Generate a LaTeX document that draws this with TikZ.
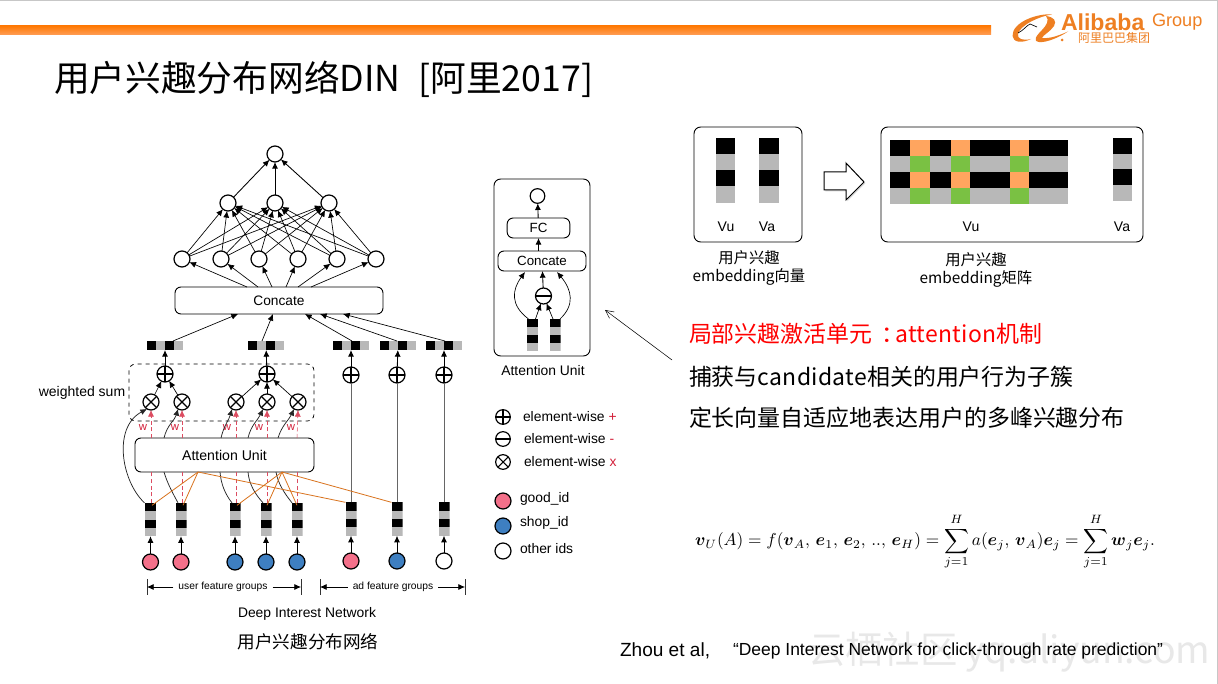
\documentclass[tikz,border=0pt]{standalone}
\usepackage[no-math]{fontspec}
\usepackage{amsmath}
\usepackage{graphicx}
\setmainfont{Liberation Sans}
\newfontfamily\cjk{Noto Sans CJK SC}
\newfontfamily\cjkwide[LetterSpace=1.5]{Noto Sans CJK SC}
\usetikzlibrary{arrows.meta,calc,shadows}
\definecolor{bartop}{HTML}{FF7A05}
\definecolor{barbot}{HTML}{FF9E58}
\definecolor{logoorange}{HTML}{EE7F22}
\definecolor{cellgray}{HTML}{B8B8B8}
\definecolor{cellorange}{HTML}{FFA55F}
\definecolor{cellgreen}{HTML}{7AC143}
\definecolor{pinkid}{HTML}{F4708A}
\definecolor{blueid}{HTML}{3E7FC1}
\definecolor{redw}{HTML}{D3203A}
\definecolor{wire}{HTML}{D9731E}
\tikzset{
  x=0.75pt,y=-0.75pt,
  arr/.style={-{Latex[length=5pt,width=4.5pt]},line width=0.65pt,black},
  thinarr/.style={-{Latex[length=5pt,width=4.5pt]},line width=0.5pt,black},
  redarr/.style={-{Latex[length=5pt,width=4.5pt]},line width=0.4pt,redw!80,densely dashed},
  reddash/.style={line width=0.4pt,redw!80,densely dashed},
  orangeline/.style={line width=0.6pt,wire},
  curvearr/.style={-{Latex[length=5pt,width=4.5pt]},line width=0.55pt,black!85},
  curveln/.style={line width=0.55pt,black!85},
  neuron/.style={circle,draw,line width=0.9pt,fill=white,inner sep=0,outer sep=0,minimum size=12pt},
  smallneuron/.style={neuron,minimum size=11pt},
  pinkn/.style={neuron,fill=pinkid},
  bluen/.style={neuron,fill=blueid},
  plusn/.style={neuron,path picture={
    \draw[line width=0.8pt] (path picture bounding box.north)--(path picture bounding box.south);
    \draw[line width=0.8pt] (path picture bounding box.west)--(path picture bounding box.east);}},
  minusn/.style={neuron,path picture={
    \draw[line width=0.8pt] (path picture bounding box.west)--(path picture bounding box.east);}},
  timesn/.style={neuron,path picture={
    \draw[line width=0.8pt] (path picture bounding box.north west)--(path picture bounding box.south east);
    \draw[line width=0.8pt] (path picture bounding box.north east)--(path picture bounding box.south west);}},
  vbar/.style={inner sep=0,outer sep=0,minimum width=8.25pt,minimum height=25pt,path picture={
    \fill[black] (path picture bounding box.north west) rectangle ($(path picture bounding box.north east)!.25!(path picture bounding box.south east)$);
    \fill[cellgray] ($(path picture bounding box.north west)!.25!(path picture bounding box.south west)$) rectangle ($(path picture bounding box.north east)!.5!(path picture bounding box.south east)$);
    \fill[black] ($(path picture bounding box.north west)!.5!(path picture bounding box.south west)$) rectangle ($(path picture bounding box.north east)!.75!(path picture bounding box.south east)$);
    \fill[cellgray] ($(path picture bounding box.north west)!.75!(path picture bounding box.south west)$) rectangle (path picture bounding box.south east);}},
  hbar/.style={inner sep=0,outer sep=0,minimum width=27pt,minimum height=6.75pt,path picture={
    \fill[black] (path picture bounding box.south west) rectangle ($(path picture bounding box.north west)!.25!(path picture bounding box.north east)$);
    \fill[cellgray] ($(path picture bounding box.south west)!.25!(path picture bounding box.south east)$) rectangle ($(path picture bounding box.north west)!.5!(path picture bounding box.north east)$);
    \fill[black] ($(path picture bounding box.south west)!.5!(path picture bounding box.south east)$) rectangle ($(path picture bounding box.north west)!.75!(path picture bounding box.north east)$);
    \fill[cellgray] ($(path picture bounding box.south west)!.75!(path picture bounding box.south east)$) rectangle (path picture bounding box.north east);}},
  roundbox/.style={draw,rounded corners=4.5pt,line width=0.7pt,inner sep=0,outer sep=0,fill=white},
  panel/.style={draw,rounded corners=5pt,line width=0.7pt,inner sep=0,outer sep=0},
  tick/.style={line width=0.6pt,black!80},
  txt/.style={inner sep=0,outer sep=0,text=black},
  f8/.style={txt,font=\fontsize{7.7}{9}\selectfont},
  f13/.style={txt,font=\fontsize{10.4}{12}\selectfont},
  fvu/.style={txt,font=\fontsize{10.5}{12}\selectfont},
  fcap/.style={txt,font=\cjk\fontsize{11.5}{14}\selectfont},
  fbody/.style={txt,anchor=west,font=\cjk\fontsize{17.2}{20}\selectfont},
}
\begin{document}
\begin{tikzpicture}
\useasboundingbox (0,0) rectangle (1218,684);
\fill[white] (0,0) rectangle (1218,684);
\draw[line width=0.8pt,black!22] (0,0.5)--(1218,0.5);
\draw[line width=0.8pt,black!22] (1217.5,0)--(1217.5,684);

% watermark
\node[txt,anchor=west,text=black!9,font=\cjk\fontsize{28}{30}\selectfont] (wm) at (808,652) {云栖社区\hspace{6pt}yq.aliyun.com};

% header bar
\shade[top color=bartop,bottom color=barbot] (0,26) rectangle (991,35);

% logo
\fill[logoorange] (1052,14.5) .. controls (1038,13) and (1012,22) .. (1012.5,36)
  .. controls (1013,42.5) and (1022,43.5) .. (1031,39)
  .. controls (1023,41) and (1017,39) .. (1018,34)
  .. controls (1020,25) and (1040,16) .. (1052,14.5) -- cycle;
\fill[logoorange] (1046,16) .. controls (1054,17) and (1057,21) .. (1054,26)
  .. controls (1050,32) and (1043,35) .. (1042,38)
  .. controls (1050,39) and (1060,35) .. (1068,31.5)
  .. controls (1060,37) and (1046,43) .. (1039,42)
  .. controls (1032,41) and (1037,35) .. (1042,30)
  .. controls (1046,26) and (1050,20) .. (1046,16) -- cycle;
\draw[line width=0.5pt,black] (1018,33) .. controls (1024,30) and (1026,26) .. (1030,24) -- (1037,27);
\fill[logoorange] (1062,40) circle (1.5);
\node[txt,text=logoorange,anchor=west,font=\bfseries\fontsize{17.3}{18}\selectfont] (lg1) at (1061,22) {Alibaba};
\node[txt,text=logoorange,anchor=west,font=\fontsize{13.6}{16}\selectfont] (lg2) at (1152,22) {Group};
\node[txt,text=logoorange,anchor=west,font=\cjk\fontsize{9}{10}\selectfont] (lg3) at (1078,38) {阿里巴巴集团};

% title
\node[txt,anchor=west,font=\cjk\fontsize{26.8}{30}\selectfont] (title) at (54,79) {用户兴趣分布网络DIN\hspace{0.27em} [阿里2017]};

% main network nodes
\node[neuron] (o) at (275,154) {};
\node[neuron] (m1) at (228,203) {};
\node[neuron] (m2) at (275,203) {};
\node[neuron] (m3) at (329,203) {};
\foreach \i/\x in {1/182,2/221,3/259,4/298,5/337,6/376} \node[neuron] (l\i) at (\x,259) {};
\node[roundbox,minimum width=156pt,minimum height=20.25pt,font=\fontsize{10.3}{12}\selectfont] (cc) at (279,300.5) {Concate};

\foreach \i/\x in {1/165,2/266,3/351,4/398,5/444} \node[hbar] (t\i) at (\x,345.5) {};

\draw[panel,dashed,line width=0.55pt] (129,364) rectangle (314,421);
\node[txt,font=\fontsize{10.5}{12}\selectfont] (ws) at (82,393) {weighted sum};

\node[plusn] (p1) at (165,374) {};
\node[plusn] (p2) at (267,374) {};
\node[plusn] (p3) at (351,375) {};
\node[plusn] (p4) at (397,375) {};
\node[plusn] (p5) at (444,375) {};
\foreach \i/\x in {1/151,2/182,3/236,4/267,5/298} \node[timesn] (x\i) at (\x,402) {};

\node[roundbox,minimum width=134.25pt,minimum height=25.5pt,font=\fontsize{10.6}{12}\selectfont] (au) at (224.5,455) {Attention Unit};

\foreach \i/\x in {1/150.5,2/181,3/235,4/266,5/297} \node[vbar] (b\i) at (\x,519.5) {};
\foreach \i/\x in {6/351,7/397,8/444} \node[vbar] (b\i) at (\x,519) {};

\node[pinkn] (c1) at (150.5,562) {};
\node[pinkn] (c2) at (181,562) {};
\node[bluen] (c3) at (235,562) {};
\node[bluen] (c4) at (266,562) {};
\node[bluen] (c5) at (297,562) {};
\node[pinkn] (c6) at (351,561) {};
\node[bluen] (c7) at (397,561) {};
\node[neuron] (c8) at (444,561) {};

% connectors, upper network
\draw[arr] (m1) -- (o);
\draw[arr] (m2) -- (o);
\draw[arr] (m3) -- (o);
\foreach \i in {1,...,6} \foreach \j in {1,2,3} \draw[thinarr] (l\i) -- (m\j);
\foreach \i/\d in {1/-32,2/-21,3/-7,4/7,5/19,6/32} \draw[thinarr] ($(cc.north)+(\d,0)$) -- (l\i);
\foreach \i/\s/\d in {1/8/-41,2/-4/-6,3/1/26,4/-1/41,5/1/64} \draw[thinarr] ($(t\i.north)+(\s,0)$) -- ($(cc.south)+(\d,0)$);

% sums
\draw[arr] (p1) -- (t1);
\draw[arr] (p2) -- (t2);
\draw[arr] (p3) -- (t3);
\draw[arr] (p4) -- (t4);
\draw[arr] (p5) -- (t5);
\draw[line width=0.65pt,black!60] (b6) -- (p3);
\draw[line width=0.75pt,black!60] (b7) -- (p4);
\draw[line width=0.75pt,black!60] (b8) -- (p5);
\draw[thinarr] (x1) -- (p1);
\draw[thinarr] (x2) -- (p1);
\draw[thinarr] (x3) -- (p2);
\draw[thinarr] (x4) -- (p2);
\draw[thinarr] (x5) -- (p2);

% id to embedding
\foreach \i in {1,...,8} \draw[arr] (c\i) -- (b\i);

% weights
\foreach \i/\j in {1/151,2/182,3/236,4/267,5/297} {
  \draw[reddash] (\j,503) -- (\j,472);
  \draw[redarr] (\j,438) -- (x\i.south);
}
\foreach \i/\x in {1/143,2/175,3/227,4/259,5/291} \node[txt,text=redw,font=\fontsize{8.5}{9}\selectfont] (w\i) at (\x,428) {w};

% bypass curves
\draw[curvearr] ($(b1.north)+(-6,0)$) .. controls (122,482) and (112,428) .. (x1.240);
\draw[curveln] ($(b2.north)+(-3,0)$) .. controls (171,490) and (167,482) .. (164,472);
\draw[curvearr] (164,438) .. controls (167,425) and (175,420) .. (x2.240);
\draw[curveln] ($(b3.north)+(-3,0)$) .. controls (225,494) and (221,484) .. (220,472);
\draw[curvearr] (221,438) .. controls (224,425) and (229,420) .. (x3.240);
\draw[curveln] ($(b4.north)+(-3,0)$) .. controls (255,494) and (249,484) .. (248,472);
\draw[curvearr] (248,438) .. controls (251,425) and (258,420) .. (x4.240);
\draw[curveln] ($(b5.north)+(-5,0)$) .. controls (285,494) and (278,484) .. (276,472);
\draw[curvearr] (278,438) .. controls (282,425) and (289,420) .. (x5.240);

% orange wires
\coordinate (oa) at ($(au.south)+(-26.5,0)$);
\coordinate (ob) at ($(au.south)+(57.5,0)$);
\draw[orangeline] (oa) -- ($(b1.north)+(1.5,2.5)$);
\draw[orangeline] (oa) -- ($(b2.north)+(2,2.5)$);
\draw[orangeline] (oa) -- (b6.north west);
\draw[orangeline] (ob) -- ($(b3.north)+(2,2.5)$);
\draw[orangeline] (ob) -- ($(b4.north)+(1,2.5)$);
\draw[orangeline] (ob) -- ($(b5.north)+(0,2.5)$);
\draw[orangeline] (ob) -- (b7.north west);

% group labels
\coordinate (g1) at (147,587); \coordinate (g2) at (301,587);
\coordinate (g3) at (320,587); \coordinate (g4) at (465,587);
\draw[tick] (147,579)--(147,595);
\draw[tick] (301,579)--(301,595);
\draw[tick] (320,579)--(320,595);
\draw[tick] (465,579)--(465,595);
\node[f8] (ug) at (223,587) {user feature groups};
\node[f8] (ag) at (393,587) {ad feature groups};
\draw[thinarr] (ug.west) ++(-5,0) -- (g1);
\draw[thinarr] (ug.east) ++(5,0) -- (g2);
\draw[thinarr] (ag.west) ++(-5,0) -- (g3);
\draw[thinarr] (ag.east) ++(5,0) -- (g4);
\node[f13] (din) at (307,613.5) {Deep Interest Network};
\node[txt,font=\cjk\fontsize{13.2}{15}\selectfont] (dincap) at (308,642) {用户兴趣分布网络};

% attention unit detail
\draw[panel] (494,179) rectangle (590,356);
\node[smallneuron] (ao) at (537.5,196) {};
\node[roundbox,minimum width=47pt,minimum height=15pt,font=\fontsize{10}{12}\selectfont] (afc) at (538.5,228) {FC};
\node[roundbox,minimum width=66pt,minimum height=15pt,font=\fontsize{10}{12}\selectfont] (acc) at (542,261) {Concate};
\node[minusn] (am) at (543.5,296) {};
\node[vbar,minimum height=24pt] (ab1) at (532.5,335) {};
\node[vbar,minimum height=24pt] (ab2) at (555,335) {};
\draw[arr] (afc) -- (ao);
\draw[arr] (acc.north -| afc) -- (afc);
\draw[arr] (am) -- (acc);
\draw[thinarr] ($(ab1.north)+(3,0)$) -- (am);
\draw[thinarr] ($(ab2.north)+(-2,0)$) -- (am);
\draw[thinarr] ($(ab1.north)+(-4,0)$) .. controls (510,305) and (512,290) .. ($(acc.south)+(-17,1)$);
\draw[thinarr] ($(ab2.north)+(5,0)$) .. controls (575,305) and (572,290) .. ($(acc.south)+(15,1)$);
\node[f13] (aucap) at (543,371) {Attention Unit};
\coordinate (ptr) at (672,360);
\coordinate (ptrend) at (605,310);
\draw[-{Straight Barb[length=6pt,width=6pt]},line width=0.4pt] (ptr) -- (ptrend);

% legend
\node[plusn,minimum size=11pt] (lgp) at (503,417) {};
\node[minusn,minimum size=11pt] (lgm) at (503,439) {};
\node[timesn,minimum size=11pt] (lgx) at (503,462) {};
\node[f13,anchor=west] (lt1) at (523,416.5) {element-wise \textcolor{redw}{+}};
\node[f13,anchor=west] (lt2) at (524,439) {element-wise \textcolor{redw}{-}};
\node[f13,anchor=west] (lt3) at (524,462) {element-wise \textcolor{redw}{x}};
\node[pinkn,minimum size=12pt] (lgg) at (503,501) {};
\node[bluen,minimum size=12pt] (lgs) at (503,526) {};
\node[neuron,minimum size=12pt] (lgo) at (503,551) {};
\node[f13,anchor=west] (lt4) at (520,499) {good\_id};
\node[f13,anchor=west] (lt5) at (520,523) {shop\_id};
\node[f13,anchor=west] (lt6) at (520,549) {other ids};

% embedding vector panel
\draw[panel] (694,127) rectangle (802,242);
\fill[black] (716,138) rectangle (735,154);
\fill[cellgray] (716,154) rectangle (735,170);
\fill[black] (716,170) rectangle (735,186);
\fill[cellgray] (716,186) rectangle (735,203);
\fill[black] (759,138) rectangle (779,154);
\fill[cellgray] (759,154) rectangle (779,170);
\fill[black] (759,170) rectangle (779,186);
\fill[cellgray] (759,186) rectangle (779,203);
\node[fvu] (vu1) at (726,227) {Vu};
\node[fvu] (va1) at (767,227) {Va};
\node[fcap] (cap1a) at (749,258) {用户兴趣};
\node[fcap] (cap1b) at (749,277) {embedding向量};

% block arrow
\draw[line width=0.75pt,fill=white,drop shadow={shadow xshift=1pt,shadow yshift=-1pt,opacity=0.3}] (824,172) -- (846,172) -- (846,163) -- (864,182) -- (846,200) -- (846,190) -- (824,190) -- cycle;

% embedding matrix panel
\draw[panel] (881,127) rectangle (1143,242);
\foreach \ya/\yb/\base/\acc in {140/156/black/cellorange,156/172/cellgray/cellgreen,172/188/black/cellorange,188/204/cellgray/cellgreen} {
  \fill[\base] (890,\ya) rectangle (1068,\yb);
  \fill[\acc] (910,\ya) rectangle (930,\yb);
  \fill[\acc] (951,\ya) rectangle (970,\yb);
  \fill[\acc] (1010,\ya) rectangle (1029,\yb);
}
\fill[black] (1113,138) rectangle (1132,154);
\fill[cellgray] (1113,154) rectangle (1132,169);
\fill[black] (1113,169) rectangle (1132,185);
\fill[cellgray] (1113,185) rectangle (1132,201);
\node[fvu] (vu2) at (971,227) {Vu};
\node[fvu] (va2) at (1122,227) {Va};
\node[fcap] (cap2a) at (976,260) {用户兴趣};
\node[fcap] (cap2b) at (976,279) {embedding矩阵};

% body text
\node[fbody,text=red] (b01) at (689,334) {局部兴趣激活单元\kern 0.4em：\kern -0.4em{\cjkwide attention}机制};
\node[fbody] (b02) at (689,377) {捕获与{\cjkwide candidate}相关的用户行为子簇};
\node[fbody] (b03) at (689,418) {定长向量自适应地表达用户的多峰兴趣分布};

% formula
\node[txt] (fm) at (925,542) {\resizebox{345pt}{!}{$\displaystyle \boldsymbol{v}_U(A)=f(\boldsymbol{v}_A,\,\boldsymbol{e}_1,\,\boldsymbol{e}_2,\,..,\,\boldsymbol{e}_H)=\sum_{j=1}^{H}a(\boldsymbol{e}_j,\,\boldsymbol{v}_A)\boldsymbol{e}_j=\sum_{j=1}^{H}\boldsymbol{w}_j\boldsymbol{e}_j.$}};

% citation
\node[txt,anchor=west,font=\fontsize{14.3}{16}\selectfont] (cite) at (620,651) {Zhou et al,};
\node[txt,anchor=west,font=\fontsize{13.1}{16}\selectfont] (cite2) at (733,651) {“Deep Interest Network for click-through rate prediction”};
\end{tikzpicture}
\end{document}
